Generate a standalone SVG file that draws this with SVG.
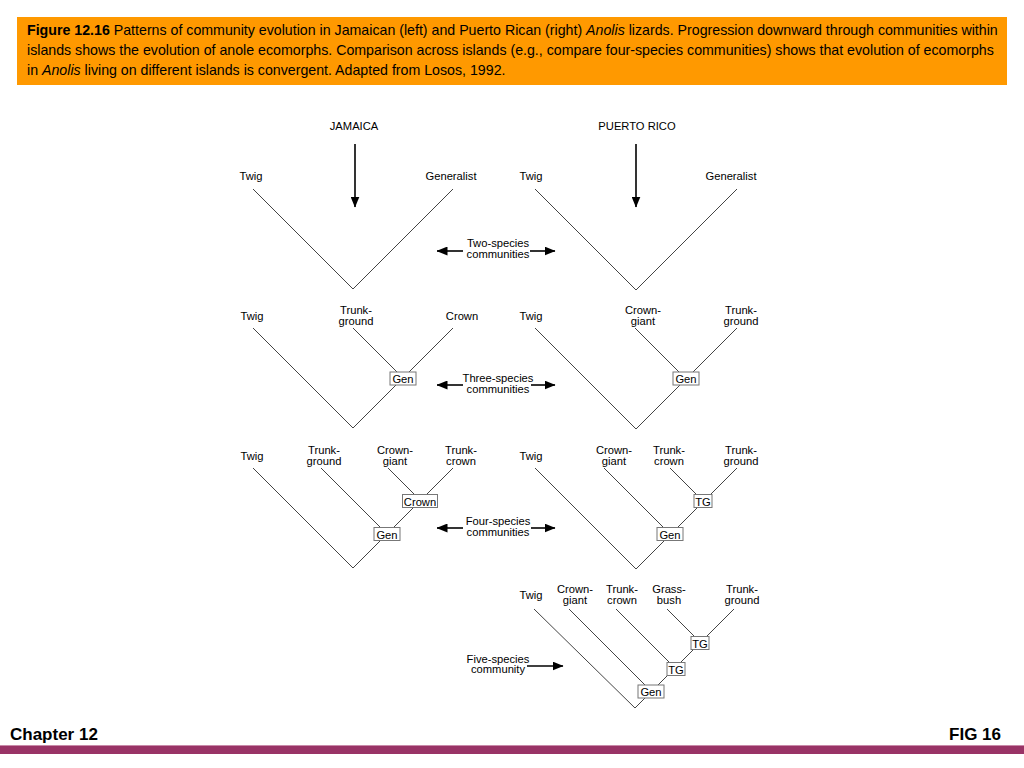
<svg xmlns="http://www.w3.org/2000/svg" width="1024" height="768" viewBox="0 0 1024 768">
<defs>
<marker id="ah" markerUnits="userSpaceOnUse" markerWidth="11" markerHeight="9" refX="10.5" refY="4.5" orient="auto">
<path d="M0,0 L11,4.5 L0,9 z" fill="#000"/>
</marker>
<style>
text{font-family:"Liberation Sans",Arial,sans-serif;fill:#000}
.hd{font-size:14.2px}
.lb{font-size:11.2px;text-anchor:middle}
.tl{fill:none;stroke:#444;stroke-width:1}
.ar{fill:none;stroke:#000;stroke-width:1.6;marker-end:url(#ah)}
.bx{fill:#fff;stroke:#777;stroke-width:1}
.ft{font-size:17px;font-weight:bold}
</style>
</defs>
<rect width="1024" height="768" fill="#fff"/>
<g id="header">
<rect x="17" y="17" width="990" height="68" fill="#ff9900"/>
<text class="hd" x="27" y="35"><tspan font-weight="bold">Figure 12.16</tspan> Patterns of community evolution in Jamaican (left) and Puerto Rican (right) <tspan font-style="italic">Anolis</tspan> lizards. Progression downward through communities within</text>
<text class="hd" x="27" y="55">islands shows the evolution of anole ecomorphs. Comparison across islands (e.g., compare four-species communities) shows that evolution of ecomorphs</text>
<text class="hd" x="27" y="75">in <tspan font-style="italic">Anolis</tspan> living on different islands is convergent. Adapted from Losos, 1992.</text>
</g>
<g id="connectors">
<line class="ar" x1="355" y1="144" x2="355" y2="207"/>
<line class="ar" x1="636" y1="144" x2="636" y2="207"/>
<line class="ar" x1="463" y1="251" x2="437" y2="251"/>
<line class="ar" x1="530" y1="251" x2="555" y2="251"/>
<line class="ar" x1="463" y1="385" x2="437" y2="385"/>
<line class="ar" x1="531" y1="385" x2="555" y2="385"/>
<line class="ar" x1="463" y1="528" x2="437" y2="528"/>
<line class="ar" x1="531" y1="528" x2="555" y2="528"/>
<line class="ar" x1="527" y1="666" x2="563" y2="666"/>
<path class="tl" d="M253,189 L353,289 L453,189"/>
<path class="tl" d="M535,189 L636,290 L737,189"/>
<path class="tl" d="M253,328 L353,428 L453,328 M353,328 L403,378"/>
<path class="tl" d="M535,328 L636,429 L737,328 M635,328 L686,379"/>
<path class="tl" d="M253,468 L353,568 L453,468 M321,468 L387,534 M388,468 L420,500"/>
<path class="tl" d="M535,468 L636,569 L737,468 M604,468 L670,534 M670,468 L703,501"/>
<path class="tl" d="M534,609 L635,708 L734,609 M569,609 L652,692 M616,609 L676,669 M667,609 L700,642"/>
</g>
<g id="jamaica-title"><text class="lb" x="354" y="130">JAMAICA</text></g>
<g id="pr-title"><text class="lb" x="637" y="130">PUERTO RICO</text></g>
<g id="j2">
<text class="lb" x="251" y="180">Twig</text>
<text class="lb" x="451" y="180">Generalist</text>
</g>
<g id="p2">
<text class="lb" x="531" y="180">Twig</text>
<text class="lb" x="731" y="180">Generalist</text>
</g>
<g id="lbl2"><text class="lb" x="498" y="247">Two-species</text><text class="lb" x="498" y="258">communities</text></g>
<g id="j3">
<text class="lb" x="252" y="320">Twig</text>
<text class="lb" x="356" y="314">Trunk-</text><text class="lb" x="356" y="325">ground</text>
<text class="lb" x="462" y="320">Crown</text>
<rect class="bx" x="390" y="372" width="26" height="13"/><text class="lb" x="403" y="383">Gen</text>
</g>
<g id="p3">
<text class="lb" x="531" y="320">Twig</text>
<text class="lb" x="643" y="314">Crown-</text><text class="lb" x="643" y="325">giant</text>
<text class="lb" x="741" y="314">Trunk-</text><text class="lb" x="741" y="325">ground</text>
<rect class="bx" x="673" y="372" width="26" height="13"/><text class="lb" x="686" y="383">Gen</text>
</g>
<g id="lbl3"><text class="lb" x="498" y="382">Three-species</text><text class="lb" x="498" y="393">communities</text></g>
<g id="j4">
<text class="lb" x="252" y="460">Twig</text>
<text class="lb" x="324" y="454">Trunk-</text><text class="lb" x="324" y="465">ground</text>
<text class="lb" x="395" y="454">Crown-</text><text class="lb" x="395" y="465">giant</text>
<text class="lb" x="461" y="454">Trunk-</text><text class="lb" x="461" y="465">crown</text>
<rect class="bx" x="402.5" y="494.5" width="35" height="13"/><text class="lb" x="420" y="505.5">Crown</text>
<rect class="bx" x="374" y="527.5" width="26" height="13"/><text class="lb" x="387" y="538.5">Gen</text>
</g>
<g id="p4">
<text class="lb" x="531" y="460">Twig</text>
<text class="lb" x="614" y="454">Crown-</text><text class="lb" x="614" y="465">giant</text>
<text class="lb" x="669" y="454">Trunk-</text><text class="lb" x="669" y="465">crown</text>
<text class="lb" x="741" y="454">Trunk-</text><text class="lb" x="741" y="465">ground</text>
<rect class="bx" x="694" y="494.5" width="18" height="13"/><text class="lb" x="703" y="505.5">TG</text>
<rect class="bx" x="657" y="527.5" width="26" height="13"/><text class="lb" x="670" y="538.5">Gen</text>
</g>
<g id="lbl4"><text class="lb" x="498" y="524.5">Four-species</text><text class="lb" x="498" y="535.5">communities</text></g>
<g id="p5">
<text class="lb" x="531" y="599">Twig</text>
<text class="lb" x="575" y="593">Crown-</text><text class="lb" x="575" y="604">giant</text>
<text class="lb" x="622" y="593">Trunk-</text><text class="lb" x="622" y="604">crown</text>
<text class="lb" x="669" y="593">Grass-</text><text class="lb" x="669" y="604">bush</text>
<text class="lb" x="742" y="593">Trunk-</text><text class="lb" x="742" y="604">ground</text>
<rect class="bx" x="691" y="636.5" width="18" height="13"/><text class="lb" x="700" y="647.5">TG</text>
<rect class="bx" x="667" y="662.5" width="18" height="13"/><text class="lb" x="676" y="673.5">TG</text>
<rect class="bx" x="638" y="685" width="26" height="13"/><text class="lb" x="651" y="696">Gen</text>
</g>
<g id="lbl5"><text class="lb" x="498" y="663">Five-species</text><text class="lb" x="498" y="673">community</text></g>
<g id="footer">
<text class="ft" x="10" y="740">Chapter 12</text>
<text class="ft" x="1001" y="740" text-anchor="end">FIG 16</text>
<rect x="0" y="745" width="1024" height="9" fill="#993366"/>
<rect x="0" y="745" width="1024" height="1" fill="#c98aa9"/>
</g>
</svg>
